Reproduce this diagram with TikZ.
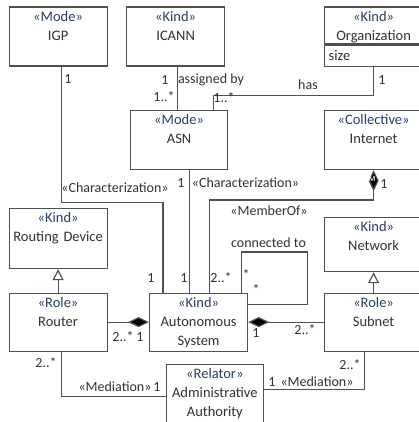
\documentclass[tikz,border=0pt]{standalone}
\usepackage{fontspec}
\setmainfont{Carlito}
\usetikzlibrary{arrows.meta,calc,positioning}
\definecolor{lineColor}{RGB}{80,80,80}
\definecolor{textColor}{RGB}{50,50,50}
\definecolor{stereoColor}{RGB}{40,62,105}
\newcommand{\stereo}[1]{{\color{stereoColor}«#1»}}
\tikzset{umlclass/.style={draw=lineColor, line width=1.2pt, anchor=north west, text width=#1, align=center, inner xsep=0pt, inner ysep=0pt, text height=14pt, text depth=45pt, text=textColor, font=\fontsize{14.5pt}{19pt}\selectfont}}
\tikzset{umlclass/.default=98pt}
\tikzset{umlattr/.style={umlclass=90pt, align=left, inner xsep=4pt, text height=15pt, text depth=6pt}}
\tikzset{lbl/.style={text=textColor, inner sep=0pt, font=\fontsize{14pt}{16pt}\selectfont}}
\tikzstyle{assoc} = [draw=lineColor, line width=1.2pt]
\tikzstyle{compose} = [assoc, -{Diamond[length=21pt, width=10pt, fill=black]}]
\tikzstyle{inherit} = [assoc, -{Triangle[open, length=11pt, width=11pt, fill=white]}]

\begin{document}
\begin{tikzpicture}[x=1pt, y=-1pt]
	\useasboundingbox[fill=white] (0,0) rectangle (418,422);
	% Nodes
	\node (igp) [umlclass] at (8.5,6.5) {\stereo{Mode}\\ IGP};
	\node (icann) [umlclass] at (126,6.5) {\stereo{Kind}\\ ICANN};
	\node (org) [umlclass, text depth=23pt] at (324,6.5) {\stereo{Kind}\\ Organization};
	\node (orgattr) [umlattr, anchor=north west] at (org.south west) {size};

	\node (asn) [umlclass=97pt] at (130,110) {\stereo{Mode}\\ ASN};
	\node (internet) [umlclass] at (324,110) {\stereo{Collective}\\ Internet};

	\node (routingdevice) [umlclass, text depth=46pt] at (8.5,208) {\stereo{Kind}\\ Routing Device};
	\node (network) [umlclass, text depth=40pt] at (324,217) {\stereo{Kind}\\ Network};

	\node (router) [umlclass, text depth=44pt] at (8.5,292.5) {\stereo{Role}\\ Router};
	\node (as) [umlclass, text depth=44pt] at (149,292.5) {\stereo{Kind}\\ Autonomous\\ System};
	\node (subnet) [umlclass, text depth=44pt] at (324,292.5) {\stereo{Role}\\ Subnet};

	\node (authority) [umlclass=97.5pt] at (165.5,364) {\stereo{Relator}\\ Administrative\\ Authority};

	% Connectors
	\draw [assoc] ([xshift=2pt]icann.south) -- ([xshift=2pt]icann.south |- asn.north);
	\draw [assoc] (orgattr.south) -- ++(0,28.5) -| ([xshift=-15pt]asn.north east);
	\draw [assoc] ([xshift=3pt]igp.south) -- ++(0,135.5) -| ([xshift=14pt]as.north west);
	\draw [assoc] ([xshift=10.5pt]asn.south) -- ([xshift=10.5pt]asn.south |- as.north);
	\draw [compose] ([xshift=-39pt]as.north east) -- ++(0,-92.5) -| (internet.south);
	\node (mtag) [text=white, inner sep=0pt, font=\sffamily\bfseries\fontsize{7pt}{7pt}\selectfont] at (372,179.5) {M};
	\draw [assoc] ([xshift=-7pt]as.north east) |- ++(66.5,-40.5) |- ([yshift=18pt]as.east);

	\draw [inherit] (router.north) -- (routingdevice.south);
	\draw [inherit] (subnet.north) -- (network.south);
	\draw [compose] (router.east) -- (as.west);
	\draw [compose] (subnet.west) -- (as.east);

	\draw [assoc] ([xshift=3pt]router.south) |- ([yshift=-2.5pt]authority.west);
	\draw [assoc] ([xshift=-9pt]subnet.south) |- ([yshift=4.5pt]authority.east);

	% Labels
	\node (icannone) [lbl] at (165,80) {1};
	\node (assignedby) [lbl] at (211,80) {assigned by};
	\node (asnmanyicann) [lbl] at (164,97) {1..*};
	\node (orgone) [lbl] at (382,80) {1};
	\node (has) [lbl] at (308,85) {has};
	\node (asnmanyorg) [lbl] at (224,98) {1..*};

	\node (igpone) [lbl] at (68,79) {1};
	\node (igpchar) [lbl] at (115,188) {«Characterization»};
	\node (asoneigp) [lbl] at (151,278) {1};
	\node (asnone) [lbl] at (181,183) {1};
	\node (asnchar) [lbl] at (245.5,183) {«Characterization»};
	\node (asoneasn) [lbl] at (184,278) {1};

	\node (internetone) [lbl] at (384,184) {1};
	\node (memberof) [lbl] at (269,211) {«MemberOf»};
	\node (asmanyinternet) [lbl] at (221,278) {2..*};

	\node (connectedto) [lbl] at (268.5,243) {connected to};
	\node (starsource) [lbl] at (246,275) {*};
	\node (startarget) [lbl] at (256,290) {*};

	\node (routermany) [lbl] at (123,337) {2..*};
	\node (asonerouter) [lbl] at (140,337) {1};
	\node (asonesubnet) [lbl] at (256,333) {1};
	\node (subnetmany) [lbl] at (305,330) {2..*};

	\node (routermanymed) [lbl] at (46,363) {2..*};
	\node (routermed) [lbl] at (115,387) {«Mediation»};
	\node (authorityonerouter) [lbl] at (157,387) {1};
	\node (subnetmanymed) [lbl] at (350,365) {2..*};
	\node (subnetmed) [lbl] at (317,382) {«Mediation»};
	\node (authorityonesubnet) [lbl] at (272,382) {1};
\end{tikzpicture}
\end{document}
